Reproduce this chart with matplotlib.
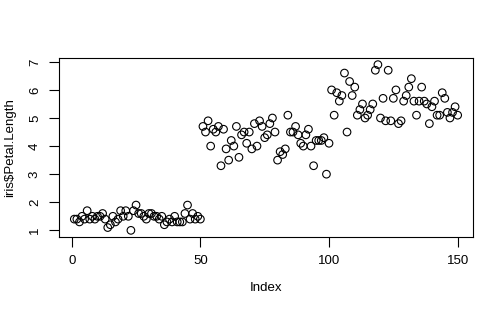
import matplotlib
matplotlib.use("Agg")
import matplotlib.pyplot as plt

plt.rcParams["font.family"] = ["Liberation Sans", "DejaVu Sans"]

# iris$Petal.Length, in row order
setosa = [1.4, 1.4, 1.3, 1.5, 1.4, 1.7, 1.4, 1.5, 1.4, 1.5, 1.5, 1.6, 1.4, 1.1, 1.2,
          1.5, 1.3, 1.4, 1.7, 1.5, 1.7, 1.5, 1.0, 1.7, 1.9, 1.6, 1.6, 1.5, 1.4, 1.6,
          1.6, 1.5, 1.5, 1.4, 1.5, 1.2, 1.3, 1.4, 1.3, 1.5, 1.3, 1.3, 1.3, 1.6, 1.9,
          1.4, 1.6, 1.4, 1.5, 1.4]
versicolor = [4.7, 4.5, 4.9, 4.0, 4.6, 4.5, 4.7, 3.3, 4.6, 3.9, 3.5, 4.2, 4.0, 4.7, 3.6,
              4.4, 4.5, 4.1, 4.5, 3.9, 4.8, 4.0, 4.9, 4.7, 4.3, 4.4, 4.8, 5.0, 4.5, 3.5,
              3.8, 3.7, 3.9, 5.1, 4.5, 4.5, 4.7, 4.4, 4.1, 4.0, 4.4, 4.6, 4.0, 3.3, 4.2,
              4.2, 4.2, 4.3, 3.0, 4.1]
virginica = [6.0, 5.1, 5.9, 5.6, 5.8, 6.6, 4.5, 6.3, 5.8, 6.1, 5.1, 5.3, 5.5, 5.0, 5.1,
             5.3, 5.5, 6.7, 6.9, 5.0, 5.7, 4.9, 6.7, 4.9, 5.7, 6.0, 4.8, 4.9, 5.6, 5.8,
             6.1, 6.4, 5.6, 5.1, 5.6, 6.1, 5.6, 5.5, 4.8, 5.4, 5.6, 5.1, 5.1, 5.9, 5.7,
             5.2, 5.0, 5.2, 5.4, 5.1]
petal_length = setosa + versicolor + virginica
index = list(range(1, len(petal_length) + 1))

x_ticks = [0, 50, 100, 150]
y_ticks = [1, 2, 3, 4, 5, 6, 7]

fig = plt.figure(figsize=(5.04, 3.11), dpi=100)
ax = fig.add_axes([0.117, 0.238, 0.8215, 0.5755])

ax.scatter(index, petal_length, s=30, facecolors="none", edgecolors="black",
           linewidths=0.8)

# R-style 4% padding around the data range
pad_x = 0.04 * (max(index) - min(index))
pad_y = 0.04 * (max(petal_length) - min(petal_length))
ax.set_xlim(min(index) - pad_x, max(index) + pad_x)
ax.set_ylim(min(petal_length) - pad_y, max(petal_length) + pad_y)

ax.set_xticks(x_ticks)
ax.set_yticks(y_ticks)
ax.tick_params(direction="out", length=7, width=0.8, labelsize=9.5, pad=6,
               colors="black")
for lbl in ax.get_yticklabels():
    lbl.set_rotation(90)
    lbl.set_va("center")

for spine in ax.spines.values():
    spine.set_linewidth(0.8)
    spine.set_color("black")

ax.set_xlabel("Index", fontsize=9.5)
ax.set_ylabel("iris\\$Petal.Length", fontsize=9.5)
ax.xaxis.set_label_coords(0.5, -0.25)
ax.yaxis.set_label_coords(-0.104, 0.5)

fig.savefig("out.png", dpi=100)
